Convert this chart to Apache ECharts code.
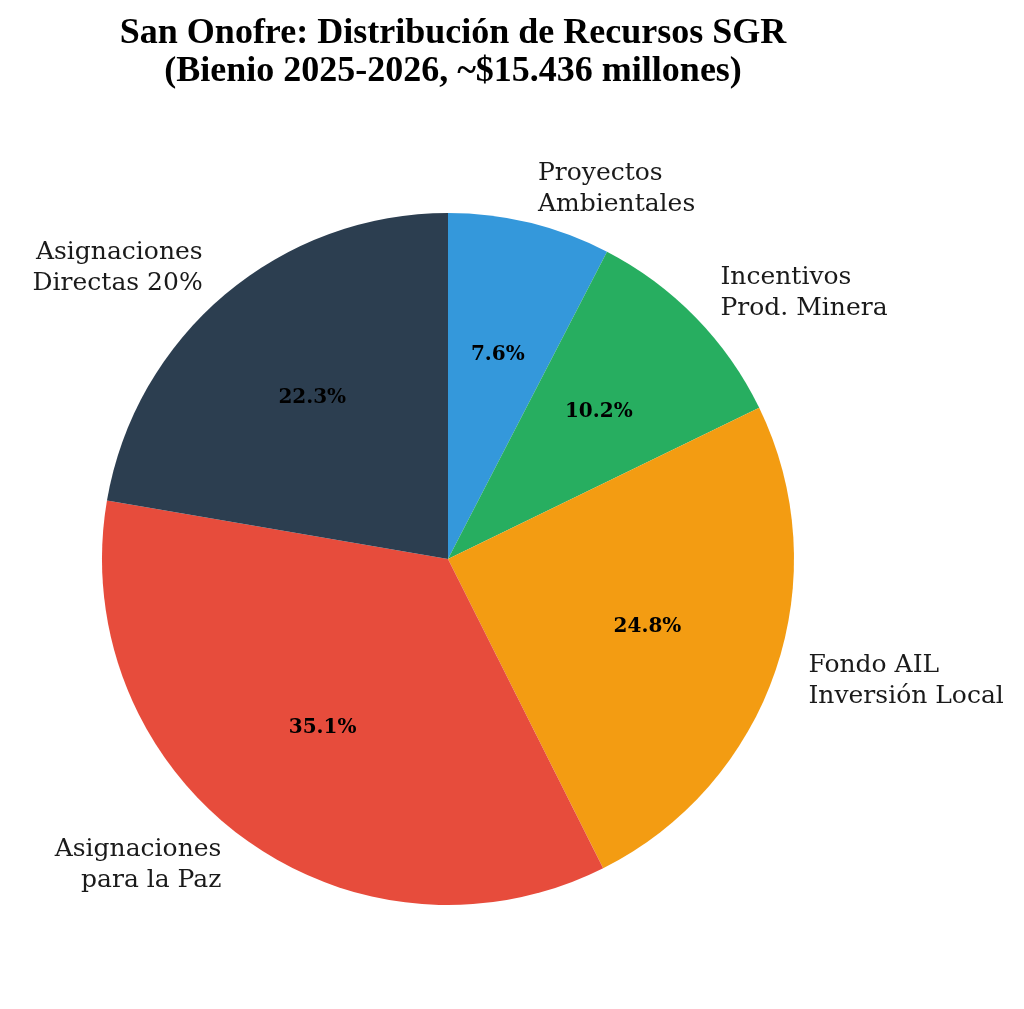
<!DOCTYPE html>
<html>
<head>
<meta charset="utf-8">
<script src="https://cdn.jsdelivr.net/npm/echarts@6/dist/echarts.min.js"></script>
<style>
  html, body { margin: 0; padding: 0; background: #fff; }
  #chart { width: 1024px; height: 1009px; }
</style>
</head>
<body>
<div id="chart"></div>
<script>
// data
const categories = [
    'Proyectos\nAmbientales',
    'Incentivos\nProd. Minera',
    'Fondo AIL\nInversión Local',
    'Asignaciones\npara la Paz',
    'Asignaciones\nDirectas 20%'
];
const shares = [7.6, 10.2, 24.8, 35.1, 22.3];
const colors = ['#3498db', '#27ae60', '#f39c12', '#e74c3c', '#2c3e50'];

const R = 346;
const CENTER = [448, 559];

const pieData = categories.map((name, i) => ({
    name: name,
    value: shares[i],
    itemStyle: { color: colors[i] }
}));

const chart = echarts.init(document.getElementById('chart'), null, { renderer: 'canvas' });

chart.setOption({
    backgroundColor: '#ffffff',
    animation: false,
    title: {
        text: 'San Onofre: Distribución de Recursos SGR\n(Bienio 2025-2026, ~$15.436 millones)',
        left: CENTER[0],
        top: 10,
        textAlign: 'center',
        textStyle: {
            fontFamily: 'Liberation Serif',
            fontWeight: 'bold',
            fontSize: 36,
            lineHeight: 38,
            color: '#000'
        }
    },
    series: [
        {
            // slices + outside names
            type: 'pie',
            center: CENTER,
            radius: [0, R],
            startAngle: 90,
            clockwise: true,
            avoidLabelOverlap: false,
            silent: true,
            data: pieData,
            label: {
                show: true,
                position: 'outside',
                formatter: '{b}',
                fontFamily: 'DejaVu Serif',
                fontSize: 25,
                lineHeight: 31,
                color: '#1a1a1a',
                distanceToLabelLine: 0
            },
            labelLine: { show: false, length: R * 0.1, length2: 0 }
        },
        {
            // transparent ring so the inner labels sit at 0.6 R
            type: 'pie',
            center: CENTER,
            radius: [R * 0.2, R],
            startAngle: 90,
            clockwise: true,
            silent: true,
            data: categories.map((name, i) => ({ name: name, value: shares[i] })),
            itemStyle: { color: 'rgba(0,0,0,0)' },
            label: {
                show: true,
                position: 'inside',
                formatter: (p) => p.value.toFixed(1) + '%',
                fontFamily: 'DejaVu Serif',
                fontWeight: 'bold',
                fontSize: 20,
                color: '#000'
            },
            labelLine: { show: false }
        }
    ]
});
</script>
</body>
</html>
